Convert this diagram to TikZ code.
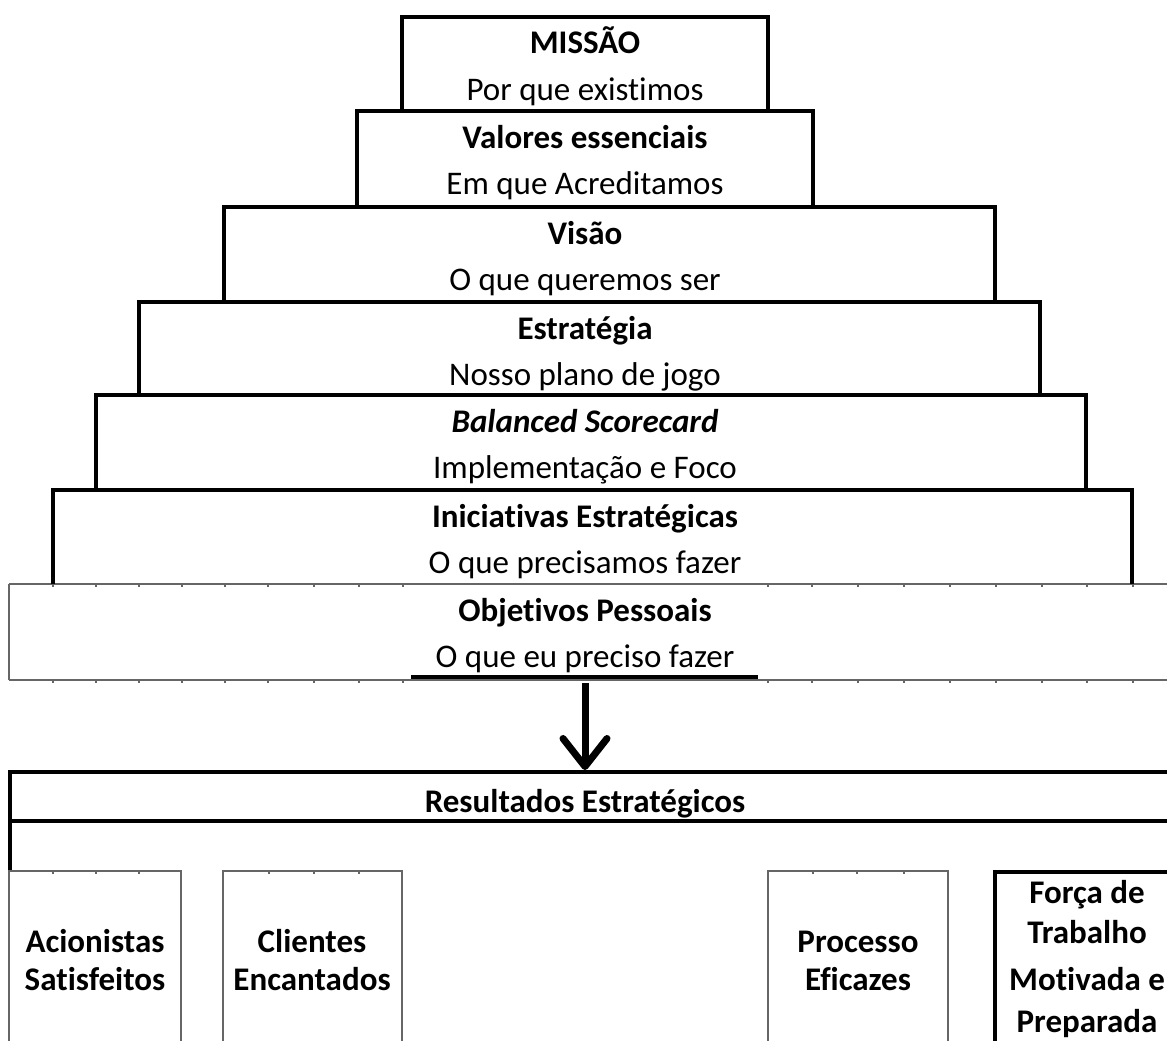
\documentclass[tikz,border=0pt]{standalone}
\usepackage{fontspec}
\setmainfont{Carlito}[Ligatures=NoCommon]
\usetikzlibrary{arrows.meta}
\begin{document}
\begin{tikzpicture}[x=1pt,y=-1pt,
  heavy/.style={line width=3.6pt, line join=miter, line cap=butt},
  fine/.style={line width=1.1pt, draw=black!60},
  lbl/.style={anchor=base, inner sep=0pt, font=\fontsize{33}{38}\selectfont},
  blbl/.style={anchor=base, inner sep=0pt, font=\fontsize{33}{38}\selectfont\bfseries},
  bilbl/.style={anchor=base, inner sep=0pt, font=\fontsize{33}{38}\selectfont\bfseries\itshape}]
\useasboundingbox (0,0) rectangle (1167,1041);
\fill[white] (0,0) rectangle (1167,1041);

% Objetivos Pessoais thin box
\draw[fine] (9,584) -- (1167,584);
\draw[fine] (9,680) -- (1167,680);
\draw[fine] (9,584) -- (9,680);
\foreach \x in {53,96,139,182,225,268,314,359,403,768,812,858,904,950,996,1042,1087,1133}{
  \draw[fine] (\x,584) -- (\x,587);
  \draw[fine] (\x,680) -- (\x,683);
}
\draw[heavy] (411,677) -- (758,677);

% pyramid levels
\foreach \l/\r/\t/\b in {402/768/17/111, 357/813/111/207, 224/995/207/302, 139/1040/302/395, 96/1086/395/490, 53/1132/490/584}
  \draw[heavy] (\l,\b) -- (\l,\t) -- (\r,\t) -- (\r,\b);

% texts
\node[blbl] (mis) at (585,53) {MISSÃO};
\node[lbl] (misS) at (585,100) {Por que existimos};
\node[blbl] (val) at (585,148) {Valores essenciais};
\node[lbl] (valS) at (585,194) {Em que Acreditamos};
\node[blbl] (vis) at (585,244) {Visão};
\node[lbl] (visS) at (585,290) {O que queremos ser};
\node[blbl] (est) at (585,339) {Estratégia};
\node[lbl] (estS) at (585,385) {Nosso plano de jogo};
\node[bilbl] (bsc) at (585,432) {Balanced Scorecard};
\node[lbl] (bscS) at (585,478) {Implementação e Foco};
\node[blbl] (ini) at (585,527) {Iniciativas Estratégicas};
\node[lbl] (iniS) at (585,573) {O que precisamos fazer};
\node[blbl] (obj) at (585,621) {Objetivos Pessoais};
\node[lbl] (objS) at (585,667) {O que eu preciso fazer};

% arrow
\coordinate (arrS) at (585,683);
\coordinate (arrE) at (585,770);
\draw[line width=7pt, -{Straight Barb[length=28pt,width=44pt,round]}] (arrS) -- (arrE);

% Resultados
\draw[heavy] (1167,772) -- (10,772) -- (10,870);
\draw[heavy] (10,821) -- (1167,821);
\node[blbl] (res) at (585,812) {Resultados Estratégicos};

% lower boxes
\draw[fine] (9,1041) -- (9,871) -- (181,871) -- (181,1041);
\draw[fine] (223,1041) -- (223,871) -- (402,871) -- (402,1041);
\draw[fine] (768,1041) -- (768,871) -- (948,871) -- (948,1041);
\foreach \x in {53,96,139,269,314,359,813,857,904}
  \draw[fine] (\x,871) -- (\x,874);
\draw[heavy] (995,1041) -- (995,872) -- (1167,872);

\node[blbl] (aci) at (95,952) {Acionistas};
\node[blbl] (aciS) at (95,990) {Satisfeitos};
\node[blbl] (cli) at (312,952) {Clientes};
\node[blbl] (cliS) at (312,990) {Encantados};
\node[blbl] (pro) at (858,952) {Processo};
\node[blbl] (proS) at (858,990) {Eficazes};
\node[blbl] (for1) at (1087,903) {Força de};
\node[blbl] (for2) at (1087,943) {Trabalho};
\node[blbl] (for3) at (1087,990) {Motivada e};
\node[blbl] (for4) at (1087,1032) {Preparada};
\end{tikzpicture}
\end{document}
